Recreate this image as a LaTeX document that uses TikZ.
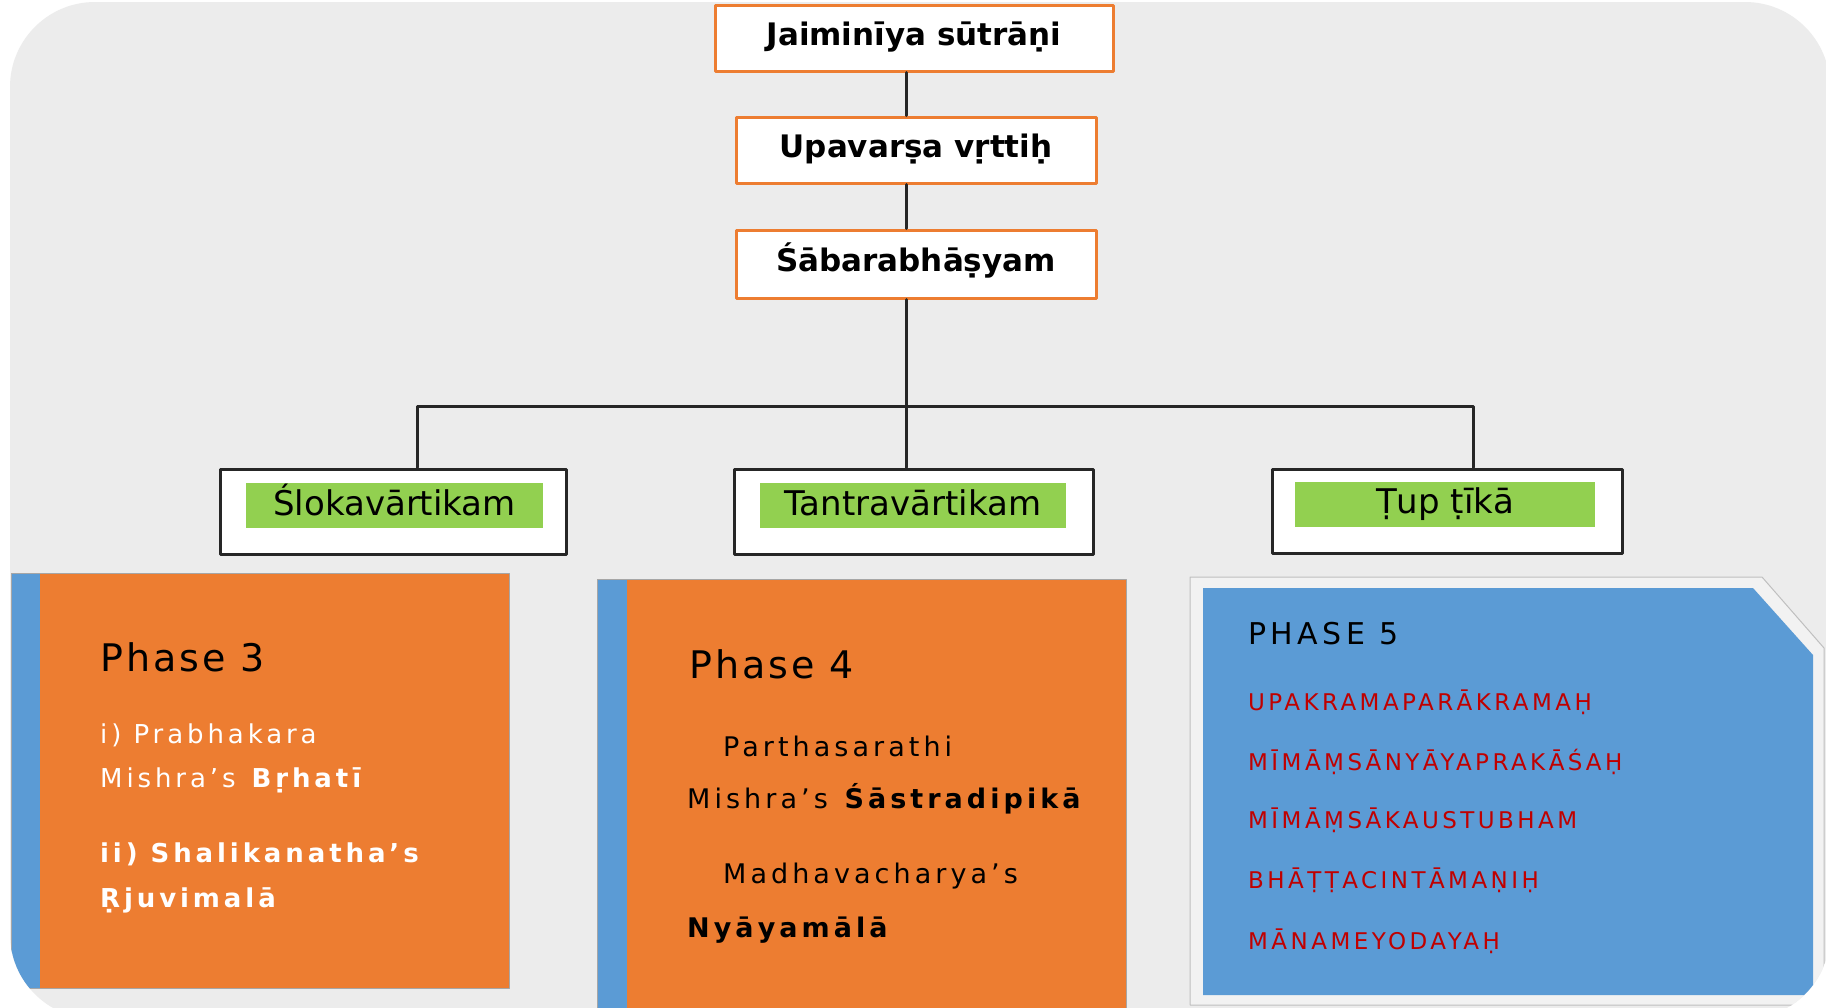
\documentclass[tikz,border=0pt]{standalone}
\usepackage{fontspec}
\setmainfont{DejaVu Sans}
\newfontfamily\headfont[LetterSpace=8]{DejaVu Sans}
\newfontfamily\panelfont[LetterSpace=15]{DejaVu Sans}
\definecolor{bggray}{HTML}{ECECEC}
\definecolor{framegray}{HTML}{F2F2F2}
\definecolor{boxorange}{HTML}{ED7D31}
\definecolor{accblue}{HTML}{5B9BD5}
\definecolor{labelgreen}{HTML}{92D050}
\definecolor{itemred}{HTML}{C00000}
\begin{document}
\begin{tikzpicture}[x=1pt, y=-1pt, line join=round, line cap=round,
    topbox/.style={draw=boxorange, line width=3, fill=white, inner sep=0,
      minimum height=66, text height=23, text depth=7.5,
      font=\bfseries\fontsize{31}{36}\selectfont},
    branchbox/.style={draw=black!85, line width=3, fill=white, inner sep=0, minimum height=85},
    greenlabel/.style={fill=labelgreen, inner sep=0, minimum height=45,
      text height=26, text depth=7, font=\fontsize{34}{40}\selectfont},
    link/.style={draw=black!85, line width=3},
    panelline/.style={draw=black!35, line width=1},
    phasehead/.style={anchor=base west, inner sep=0, font=\headfont\fontsize{38}{44}\selectfont},
    itemthree/.style={anchor=base west, inner sep=0, text=white, font=\panelfont\fontsize{26}{30}\selectfont},
    itemfour/.style={anchor=base west, inner sep=0, font=\panelfont\fontsize{27}{32}\selectfont},
    itemfive/.style={anchor=base west, inner sep=0, text=itemred, font=\panelfont\fontsize{23}{28}\selectfont}]
	\useasboundingbox (0,0) rectangle (1826,1007);
	\fill[white] (0,0) rectangle (1826,1007);
	\begin{scope}
		\clip[rounded corners=85] (10,2) rectangle (1830,1019);
		\fill[bggray] (10,2) rectangle (1830,1019);
		% lineage
		\node[topbox, minimum width=398] (jaimini) at (914,38) {Jaiminīya sūtrāṇi};
		\node[topbox, minimum width=360] (upavarsa) at (916,150) {Upavarṣa vṛttiḥ};
		\node[topbox, minimum width=360, minimum height=68] (sabara) at (916,264) {Śābarabhāṣyam};
		\node[branchbox, minimum width=346] (slokabox) at (393,511.5) {};
		\node[branchbox, minimum width=359] (tantrabox) at (913.5,511.5) {};
		\node[branchbox, minimum width=350, minimum height=84] (tupbox) at (1447,511) {};
		\node[greenlabel, minimum width=297] (sloka) at (394.5,505.5) {Ślokavārtikam};
		\node[greenlabel, minimum width=306] (tantra) at (913,505.5) {Tantravārtikam};
		\node[greenlabel, minimum width=300] (tup) at (1445,504) {Ṭup ṭīkā};
		\coordinate (lfork) at (417,406);
		\coordinate (mfork) at (906,406);
		\coordinate (rfork) at (1473,406);
		\draw[link] (mfork |- jaimini.south) -- (mfork |- upavarsa.north);
		\draw[link] (mfork |- upavarsa.south) -- (mfork |- sabara.north);
		\draw[link] (mfork |- sabara.south) -- (mfork |- tantrabox.north);
		\draw[link] (lfork |- slokabox.north) -- (lfork) -- (rfork) -- (rfork |- tupbox.north);
		% phase 3
		\fill[accblue] (11,573) rectangle (40,988);
		\fill[boxorange] (40,573) rectangle (509,988);
		\draw[panelline] (11,573) rectangle (509,988);
		\node[phasehead] (ph3) at (100,671) {Phase 3};
		\node[itemthree] (ph3a) at (100,743) {i) Prabhakara};
		\node[itemthree] (ph3b) at (100,787) {Mishra’s \textbf{Bṛhatī}};
		\node[itemthree] (ph3c) at (100,862) {\textbf{ii) Shalikanatha’s}};
		\node[itemthree] (ph3d) at (100,907) {\textbf{Ṛjuvimalā}};
		% phase 4
		\fill[accblue] (597,579) rectangle (627,1030);
		\fill[boxorange] (627,579) rectangle (1126,1030);
		\draw[panelline] (597,579) rectangle (1126,1030);
		\node[phasehead] (ph4) at (689,678) {Phase 4};
		\node[itemfour] (ph4a) at (723,756) {Parthasarathi};
		\node[itemfour] (ph4b) at (687,808) {Mishra’s \textbf{Śāstradipikā}};
		\node[itemfour] (ph4c) at (723,883) {Madhavacharya’s};
		\node[itemfour] (ph4d) at (687,937) {\textbf{Nyāyamālā}};
		% phase 5
		\filldraw[fill=framegray, draw=black!25, line width=1] (1190,577) -- (1762,577) -- (1824,648) -- (1824,1005) -- (1190,1005) -- cycle;
		\fill[accblue] (1203,588) -- (1753,588) -- (1813,655) -- (1813,995) -- (1203,995) -- cycle;
		\node[itemfive, text=black, font=\panelfont\fontsize{30}{36}\selectfont] (ph5) at (1248,644) {PHASE 5};
		\foreach \t/\y [count=\i] in {UPAKRAMAPARĀKRAMAḤ/710, MĪMĀṂSĀNYĀYAPRAKĀŚAḤ/770, MĪMĀṂSĀKAUSTUBHAM/828, BHĀṬṬACINTĀMAṆIḤ/888, MĀNAMEYODAYAḤ/949}
			\node[itemfive] (ph5item\i) at (1248,\y) {\t};
	\end{scope}
\end{tikzpicture}
\end{document}
